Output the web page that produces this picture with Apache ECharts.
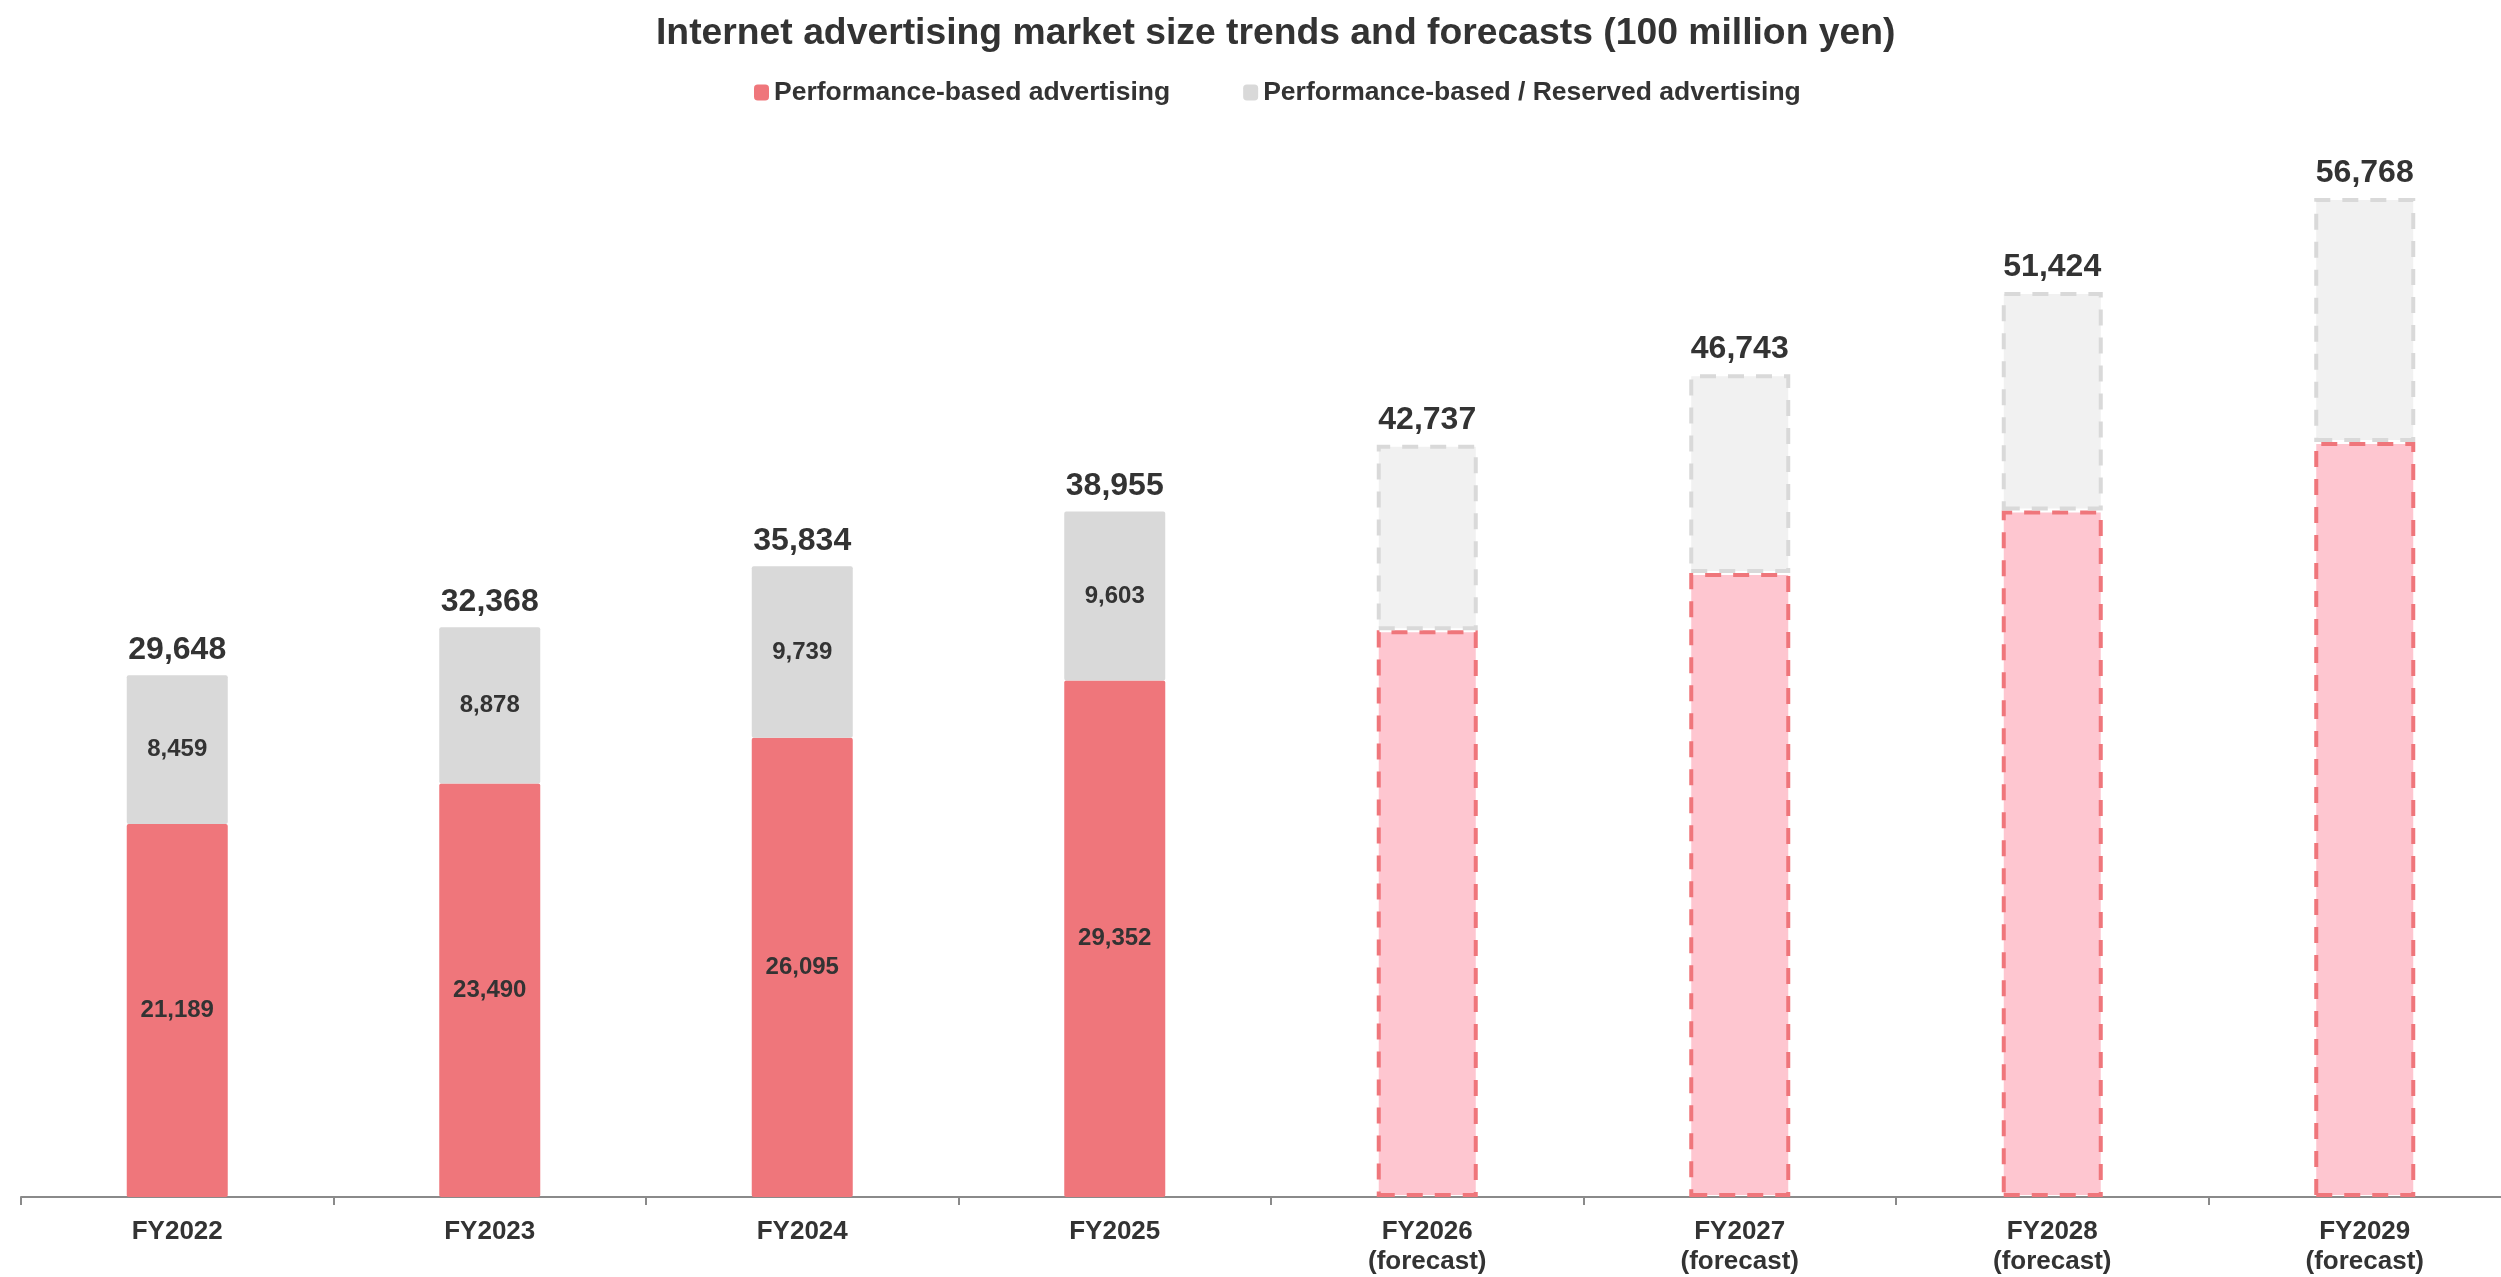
<!DOCTYPE html>
<html>
<head>
<meta charset="utf-8">
<title>Internet advertising market size</title>
<script src="https://cdn.jsdelivr.net/npm/echarts@6/dist/echarts.min.js"></script>
<style>
  html, body { margin: 0; padding: 0; background: #ffffff; }
  #chart { width: 2501px; height: 1277px; }
</style>
</head>
<body>
<div id="chart"></div>
<script>
// Fiscal years; the last four are forecasts
const categories = ['FY2022', 'FY2023', 'FY2024', 'FY2025',
  'FY2026\n(forecast)', 'FY2027\n(forecast)', 'FY2028\n(forecast)', 'FY2029\n(forecast)'];
const forecastFlags = [false, false, false, false, true, true, true, true];

// Market size, 100 million yen
const performanceBased = [21189, 23490, 26095, 29352, 32200, 35450, 39000, 42900];
const reservedBased    = [8459, 8878, 9739, 9603, 10537, 11293, 12424, 13868];
const totals           = [29648, 32368, 35834, 38955, 42737, 46743, 51424, 56768];

const seriesNames = ['Performance-based advertising', 'Performance-based / Reserved advertising'];

const FONT = '"Liberation Sans", Arial, Helvetica, sans-serif';
const TEXT = '#333333';
const RED = '#EF767B';
const GRAY = '#D9D9D9';
const PINK = '#FEC6D0';
const LIGHT = '#F1F1F1';

const fmt = v => v.toLocaleString('en-US');

function barData(values, solid, fill, edge) {
  return values.map((v, i) => forecastFlags[i]
    ? {
        value: v,
        itemStyle: { color: fill, borderColor: edge, borderWidth: 4, borderType: [16, 12] },
        label: { show: false }
      }
    : { value: v, itemStyle: { color: solid, borderRadius: 2 } });
}

const innerLabel = {
  show: true,
  position: 'inside',
  fontFamily: FONT,
  fontSize: 24,
  fontWeight: 'bold',
  color: TEXT,
  formatter: p => fmt(p.value)
};

const chart = echarts.init(document.getElementById('chart'));
chart.setOption({
  animation: false,
  backgroundColor: '#ffffff',
  title: {
    text: 'Internet advertising market size trends and forecasts (100 million yen)',
    left: 651,
    top: 10,
    textStyle: { fontFamily: FONT, fontSize: 37.3, fontWeight: 'bold', color: TEXT }
  },
  legend: {
    data: seriesNames,
    left: 749,
    top: 74,
    icon: 'roundRect',
    itemWidth: 15,
    itemHeight: 16,
    itemGap: 73,
    textStyle: { fontFamily: FONT, fontSize: 26.5, fontWeight: 'bold', color: TEXT }
  },
  // plot area runs slightly past the right edge of the canvas
  grid: { left: 21, width: 2500, top: 141, bottom: 80, outerBoundsMode: 'none' },
  xAxis: {
    type: 'category',
    data: categories,
    axisLine: { lineStyle: { color: '#8a8a8a', width: 2 } },
    axisTick: { show: true, length: 8, lineStyle: { color: '#8a8a8a', width: 2 } },
    axisLabel: {
      fontFamily: FONT, fontSize: 26, fontWeight: 'bold', color: TEXT,
      margin: 20, lineHeight: 30
    }
  },
  yAxis: {
    type: 'value', min: 0, max: 60000, show: false,
    splitLine: { show: false }
  },
  series: [
    {
      name: seriesNames[0],
      type: 'bar',
      stack: 'market',
      barWidth: 101,
      itemStyle: { color: RED },
      label: innerLabel,
      data: barData(performanceBased, RED, PINK, RED)
    },
    {
      name: seriesNames[1],
      type: 'bar',
      stack: 'market',
      barWidth: 101,
      itemStyle: { color: GRAY },
      label: innerLabel,
      data: barData(reservedBased, GRAY, LIGHT, GRAY)
    },
    {
      name: 'Total',
      type: 'scatter',
      symbolSize: 0,
      silent: true,
      z: 5,
      itemStyle: { opacity: 1 },
      label: {
        show: true,
        position: 'top',
        distance: 9,
        fontFamily: FONT,
        fontSize: 32,
        fontWeight: 'bold',
        color: TEXT,
        formatter: p => fmt(p.value)
      },
      data: totals
    }
  ]
});
</script>
</body>
</html>
